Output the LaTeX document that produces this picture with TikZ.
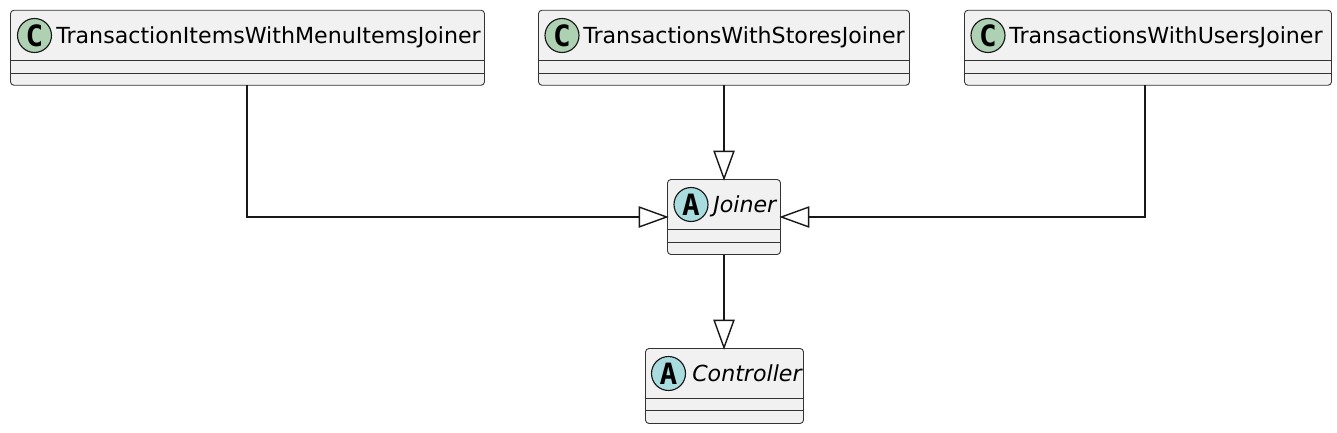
\documentclass[tikz,border=0pt]{standalone}
\usepackage{fontspec}
\setmainfont{DejaVu Sans}
\newfontfamily\glyphfont{DejaVu Sans Mono}
\usetikzlibrary{arrows.meta}
\definecolor{boxfill}{HTML}{F1F1F1}
\definecolor{boxline}{HTML}{333333}
\definecolor{linkline}{HTML}{181818}
\definecolor{classcirc}{HTML}{ADD1B2}
\definecolor{abstcirc}{HTML}{A9DCDF}
\tikzset{
  x=0.75pt,y=-0.75pt,
  classbox/.style={draw=boxline,fill=boxfill,line width=0.65pt,rounded corners=2.6pt,minimum height=56.25pt,inner sep=0pt,outer sep=0pt},
  rulex/.style={draw=boxline,line width=0.6pt},
  spot/.style={circle,draw=linkline,line width=0.85pt,minimum size=25.5pt,inner sep=0pt,font=\glyphfont\bfseries\fontsize{22pt}{22pt}\selectfont},
  cname/.style={anchor=base west,inner sep=0pt,font=\fontsize{16.6pt}{20pt}\selectfont},
  aname/.style={cname,font=\fontsize{16.6pt}{20pt}\selectfont\itshape},
  inherit/.style={draw=linkline,line width=1.05pt,shorten >=-0.9pt,-{Triangle[open,length=22.5pt,width=16pt,line width=1.05pt,fill=white]}}
}
\begin{document}
\begin{tikzpicture}
\useasboundingbox (0,0) rectangle (1337,432);
% boxes
\node[classbox,minimum width=355.5pt] (a) at (247.5,47.75) {};
\node[classbox,minimum width=278.25pt] (b) at (724,47.75) {};
\node[classbox,minimum width=275.25pt] (c) at (1148,47.75) {};
\node[classbox,minimum width=84.75pt] (j) at (724,217) {};
\node[classbox,minimum width=118.5pt] (k) at (724.5,386) {};
% compartments
\draw[rulex] (11,60.5) -- (484,60.5) (11,73) -- (484,73);
\draw[rulex] (539,60.5) -- (909,60.5) (539,73) -- (909,73);
\draw[rulex] (965,60.5) -- (1331,60.5) (965,73) -- (1331,73);
\draw[rulex] (668,229.5) -- (780,229.5) (668,242.5) -- (780,242.5);
\draw[rulex] (646,398.5) -- (803,398.5) (646,410.5) -- (803,410.5);
% circles
\node[spot,fill=classcirc] (ac) at (34.5,35.5) {C};
\node[spot,fill=classcirc] (bc) at (562,35.5) {C};
\node[spot,fill=classcirc] (cc) at (988,35.5) {C};
\node[spot,fill=abstcirc] (jc) at (691,204.5) {A};
\node[spot,fill=abstcirc] (kc) at (668.5,373.5) {A};
% names
\node[cname] (at) at (56,43.5) {TransactionItemsWithMenuItemsJoiner};
\node[cname] (bt) at (583,43.5) {TransactionsWithStoresJoiner};
\node[cname] (ct) at (1009,43.5) {TransactionsWithUsersJoiner};
\node[aname] (jt) at (713,212.5) {Joiner};
\node[aname] (kt) at (692,381.5) {Controller};
% connectors
\draw[inherit] ([xshift=-0.3pt]a.south) |- (j.west);
\draw[inherit] (b.south) -- (j.north);
\draw[inherit] ([xshift=-2.25pt]c.south) |- (j.east);
\draw[inherit] (j.south) -- (j.south |- k.north);
\end{tikzpicture}
\end{document}
